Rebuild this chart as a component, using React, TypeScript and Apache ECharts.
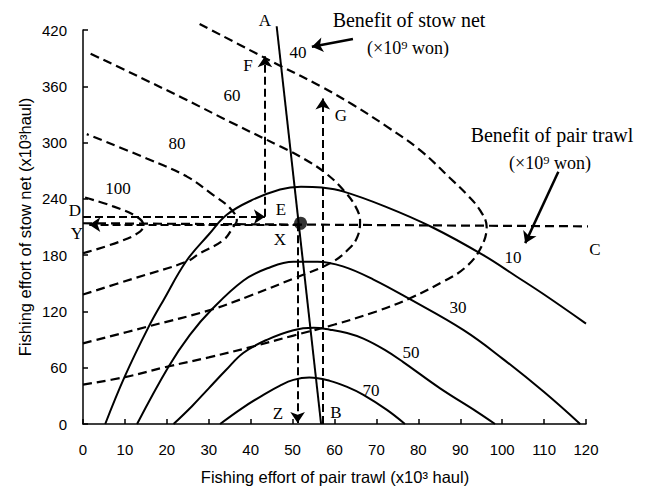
import React, { useEffect, useRef } from "react";
import * as echarts from "echarts";

// x ticks / y ticks
const xTicks = { min: 0, max: 120, interval: 10 };
const yTicks = { min: 0, max: 420, interval: 60 };

// Benefit of pair trawl (solid curves), labels 10,30,50,70
const pairTrawl10 = [[5.3,0],[10,51],[15.6,103],[19.2,132],[24.7,174],[30,202],[34.3,223],[40,238],[47,250],[52,253],[57,252],[62,248],[72,232],[83.2,210],[95.5,180],[103.5,157],[110,138],[120,107]];
const pairTrawl30 = [[12.9,0],[20.4,61],[25.5,95],[30.7,122],[38.3,153],[44,166],[50.2,173],[56,173],[62,168],[69.3,154],[78,133],[90.8,100],[100,70],[110,34],[118.6,0]];
const pairTrawl50 = [[21.6,0],[26,19],[30,38],[34,57],[38.3,76],[44,90],[50.2,100],[55,102.5],[58.9,100.5],[63,97],[66.9,91],[72,79],[76.4,66],[85.2,38],[94,13],[98.3,0]];
const pairTrawl70 = [[32.7,0],[38,17],[43,31],[47,41],[50.2,47],[54,49.5],[58.9,46],[63,39.5],[66.9,31],[72.5,15],[76.8,0]];

// Benefit of stow net (dashed curves), labels 40,60,80,100
const stowNet40 = [[0,42],[10,50],[20,61],[30,71],[40,82],[50,94],[60,106],[70,120],[78,134],[86,152],[91,166],[94.7,186],[96.3,210],[94.7,228],[91.5,245],[87.6,262],[80.4,292],[72.5,317],[64.5,340],[56.7,360],[47,382],[42.2,393],[27.6,427]];
const stowNet60 = [[0,86],[15.6,104],[30.7,122],[40,137],[50.2,155],[59,171.5],[63.5,187],[65.5,200],[66.1,216],[65,232],[62,250],[58,267],[53,282],[47,296],[36,320],[24,347],[12,373],[1.7,395]];
const stowNet80 = [[0,138],[12,155],[24.7,173],[27.9,182],[33.5,196],[35.9,210.5],[36.7,217],[35.1,230],[31.1,244],[24.7,264],[15.2,283],[0.9,309]];
const stowNet100 = [[0,182],[8.8,194.5],[13.6,205],[14.4,212],[12.8,221],[7.2,232],[0,242]];

// reaction line A-B and line D-C
const lineAB = [[46.2,424],[56.8,0]];
const lineDC = [[0,214],[128,210.5]];
const pointX = [[51.9,214]];

// dashed arrows [from, to]
const arrowE = [[0,221],[43.4,221]];
const arrowF = [[43.4,221],[43.4,392]];
const arrowG = [[57.2,0],[57.2,347]];
const arrowZ = [[51.2,214],[51.2,1]];
const arrowY = [[51.9,212.5],[1.5,212.5]];
// pointer arrows of the annotations
const pointerStow = [[64.4,410.4],[54.6,402.2]];
const pointerPair = [[113.4,269],[105.5,192.8]];

const SERIF = '"Liberation Serif", "Times New Roman", serif';
const SANS = '"Liberation Sans", Arial, sans-serif';

export default function App() {
  const ref = useRef<HTMLDivElement>(null);
  useEffect(() => {
    if (!ref.current) return;
    const chart = echarts.init(ref.current, null, { renderer: "svg" });
    const solid = (data: number[][]) => ({
      type: "line", data, smooth: 0.4, showSymbol: false, symbol: "none", clip: false,
      lineStyle: { color: "#000", width: 2 }, silent: true,
    });
    const dashed = (data: number[][]) => ({
      type: "line", data, smooth: 0.4, showSymbol: false, symbol: "none", clip: false,
      lineStyle: { color: "#000", width: 2.2, type: [9, 5] }, silent: true,
    });
    const arrows = (list: number[][][], type: any, w: number) => ({
      type: "lines", coordinateSystem: "cartesian2d", clip: false,
      symbol: ["none", "arrow"], symbolSize: [8, 11],
      lineStyle: { color: "#000", width: w, type, opacity: 1 },
      data: list.map((c) => ({ coords: c })), silent: true,
    });
    const txt = (text: string, x: number, y: number, size = 17, font = SERIF) => ({
      type: "text", x, y, silent: true,
      style: { text, fill: "#000", font: `${size}px ${font}`, align: "center", verticalAlign: "middle", textAlign: "center", textVerticalAlign: "middle" },
    });
    chart.setOption({
      animation: false,
      backgroundColor: "#fff",
      grid: { left: 83, right: 64, top: 30, bottom: 64, containLabel: false },
      xAxis: {
        type: "value", ...xTicks,
        axisLine: { lineStyle: { color: "#000", width: 1.5 } },
        axisTick: { inside: true, length: 5, lineStyle: { color: "#000", width: 1.5 } },
        axisLabel: { color: "#000", fontSize: 15, fontFamily: SANS, margin: 18 },
        splitLine: { show: false },
      },
      yAxis: {
        type: "value", ...yTicks,
        axisLine: { show: true, lineStyle: { color: "#000", width: 1.5 } },
        axisTick: { show: true, inside: true, length: 5, lineStyle: { color: "#000", width: 1.5 } },
        axisLabel: { color: "#000", fontSize: 15, fontFamily: SANS, margin: 16 },
        splitLine: { show: false },
      },
      series: [
        solid(pairTrawl10), solid(pairTrawl30), solid(pairTrawl50), solid(pairTrawl70),
        dashed(stowNet40), dashed(stowNet60), dashed(stowNet80), dashed(stowNet100),
        { type: "line", data: lineAB, showSymbol: false, symbol: "none", clip: false, lineStyle: { color: "#000", width: 2 }, silent: true },
        { type: "line", data: lineDC, showSymbol: false, symbol: "none", clip: false, lineStyle: { color: "#000", width: 2.2, type: [9, 5] }, silent: true },
        arrows([arrowE, arrowF, arrowG, arrowZ, arrowY], [8, 4], 2),
        arrows([pointerStow, pointerPair], "solid", 2.5),
        { type: "scatter", data: pointX, symbolSize: 13, itemStyle: { color: "#000" }, silent: true, clip: false },
      ],
      graphic: [
        txt("A", 265, 20), txt("B", 336, 412), txt("C", 595, 249), txt("D", 75, 210),
        txt("E", 281, 209), txt("F", 248, 65), txt("G", 341, 115), txt("X", 280, 239),
        txt("Y", 77, 233), txt("Z", 278, 413),
        txt("40", 298, 52), txt("60", 232, 95), txt("80", 177, 143), txt("100", 118, 188),
        txt("10", 513, 257), txt("30", 458, 307), txt("50", 411, 352), txt("70", 371, 390),
        txt("Benefit of stow net", 409, 20, 20), txt("(×10⁹ won)", 408, 48, 18),
        txt("Benefit of pair trawl", 552, 135, 20), txt("(×10⁹ won)", 550, 163, 18),
        txt("Fishing effort of pair trawl (x10³ haul)", 335, 477, 16.5, SANS),
        { ...txt("Fishing effort of stow net (x10³haul)", 25, 227, 16.5, SANS), rotation: Math.PI / 2 },
      ],
    });
    return () => chart.dispose();
  }, []);
  return <div ref={ref} style={{ position: "absolute", left: 0, top: 0, width: 650, height: 488, background: "#fff" }} />;
}
